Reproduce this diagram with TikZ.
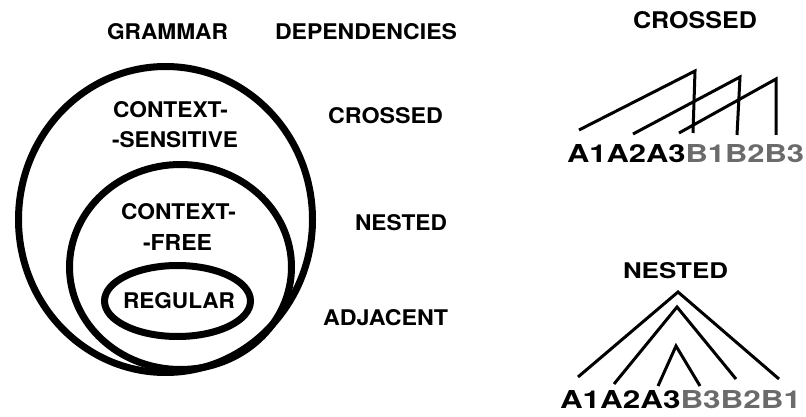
\documentclass[tikz,border=0pt]{standalone}
\usepackage{fontspec}
\usepackage{graphicx}
\setmainfont{TeX Gyre Heros}
\definecolor{bgray}{HTML}{6B6B6B}
\newcommand{\rsz}[3]{\resizebox{#1pt}{#2pt}{\bfseries #3}}
\tikzset{
  lbl/.style={anchor=south west, inner sep=0pt, outer sep=0pt},
  ring/.style={draw=black, line width=7pt},
  dep/.style={draw=black, line width=3pt, line join=miter}
}
\begin{document}
\begin{tikzpicture}[x=1pt,y=-1pt]
\useasboundingbox (0,0) rectangle (806,417);
% ellipses
\draw[ring] (165.5,219.5) ellipse [x radius=147, y radius=153];
\draw[ring] (180.5,267) ellipse [x radius=111, y radius=102.5];
\draw[ring] (177.5,301) ellipse [x radius=73, y radius=35.5];
% left labels
\node[lbl] (gram) at (107,40) {\rsz{121}{16}{GRAMMAR}};
\node[lbl] (deps) at (275,40) {\rsz{182}{16}{DEPENDENCIES}};
\node[lbl] (cs1) at (113,118) {\rsz{115}{16}{CONTEXT-}};
\node[lbl] (cs2) at (112,148) {\rsz{126}{16}{-SENSITIVE}};
\node[lbl] (cf1) at (121,220) {\rsz{115}{16}{CONTEXT-}};
\node[lbl] (cf2) at (143,250) {\rsz{69}{16}{-FREE}};
\node[lbl] (reg) at (123,309) {\rsz{112}{16}{REGULAR}};
\node[lbl] (crs) at (328,124) {\rsz{115}{16}{CROSSED}};
\node[lbl] (nst) at (355,231) {\rsz{92}{16}{NESTED}};
\node[lbl] (adj) at (323,326) {\rsz{125}{16}{ADJACENT}};
% right: crossed
\node[lbl] (crst) at (633,29) {\rsz{124}{17}{CROSSED}};
\node[lbl] (crsq) at (567,163) {\rsz{237}{18}{A1A2A3\textcolor{bgray}{B1B2B3}}};
\draw[dep] (579,130) -- (695,71) -- (693,133);
\draw[dep] (633,134) -- (740,77) -- (737,135);
\draw[dep] (679,133) -- (776,79) -- (776,135);
% right: nested
\node[lbl] (nstt) at (623,279) {\rsz{105}{16}{NESTED}};
\node[lbl] (nstq) at (560,409) {\rsz{241}{18}{A1A2A3\textcolor{bgray}{B3B2B1}}};
\draw[dep] (578,377) -- (678,292) -- (779,379);
\draw[dep] (614,384) -- (677,307) -- (736,379);
\draw[dep] (658,386) -- (676,346) -- (700,386);
\end{tikzpicture}
\end{document}
